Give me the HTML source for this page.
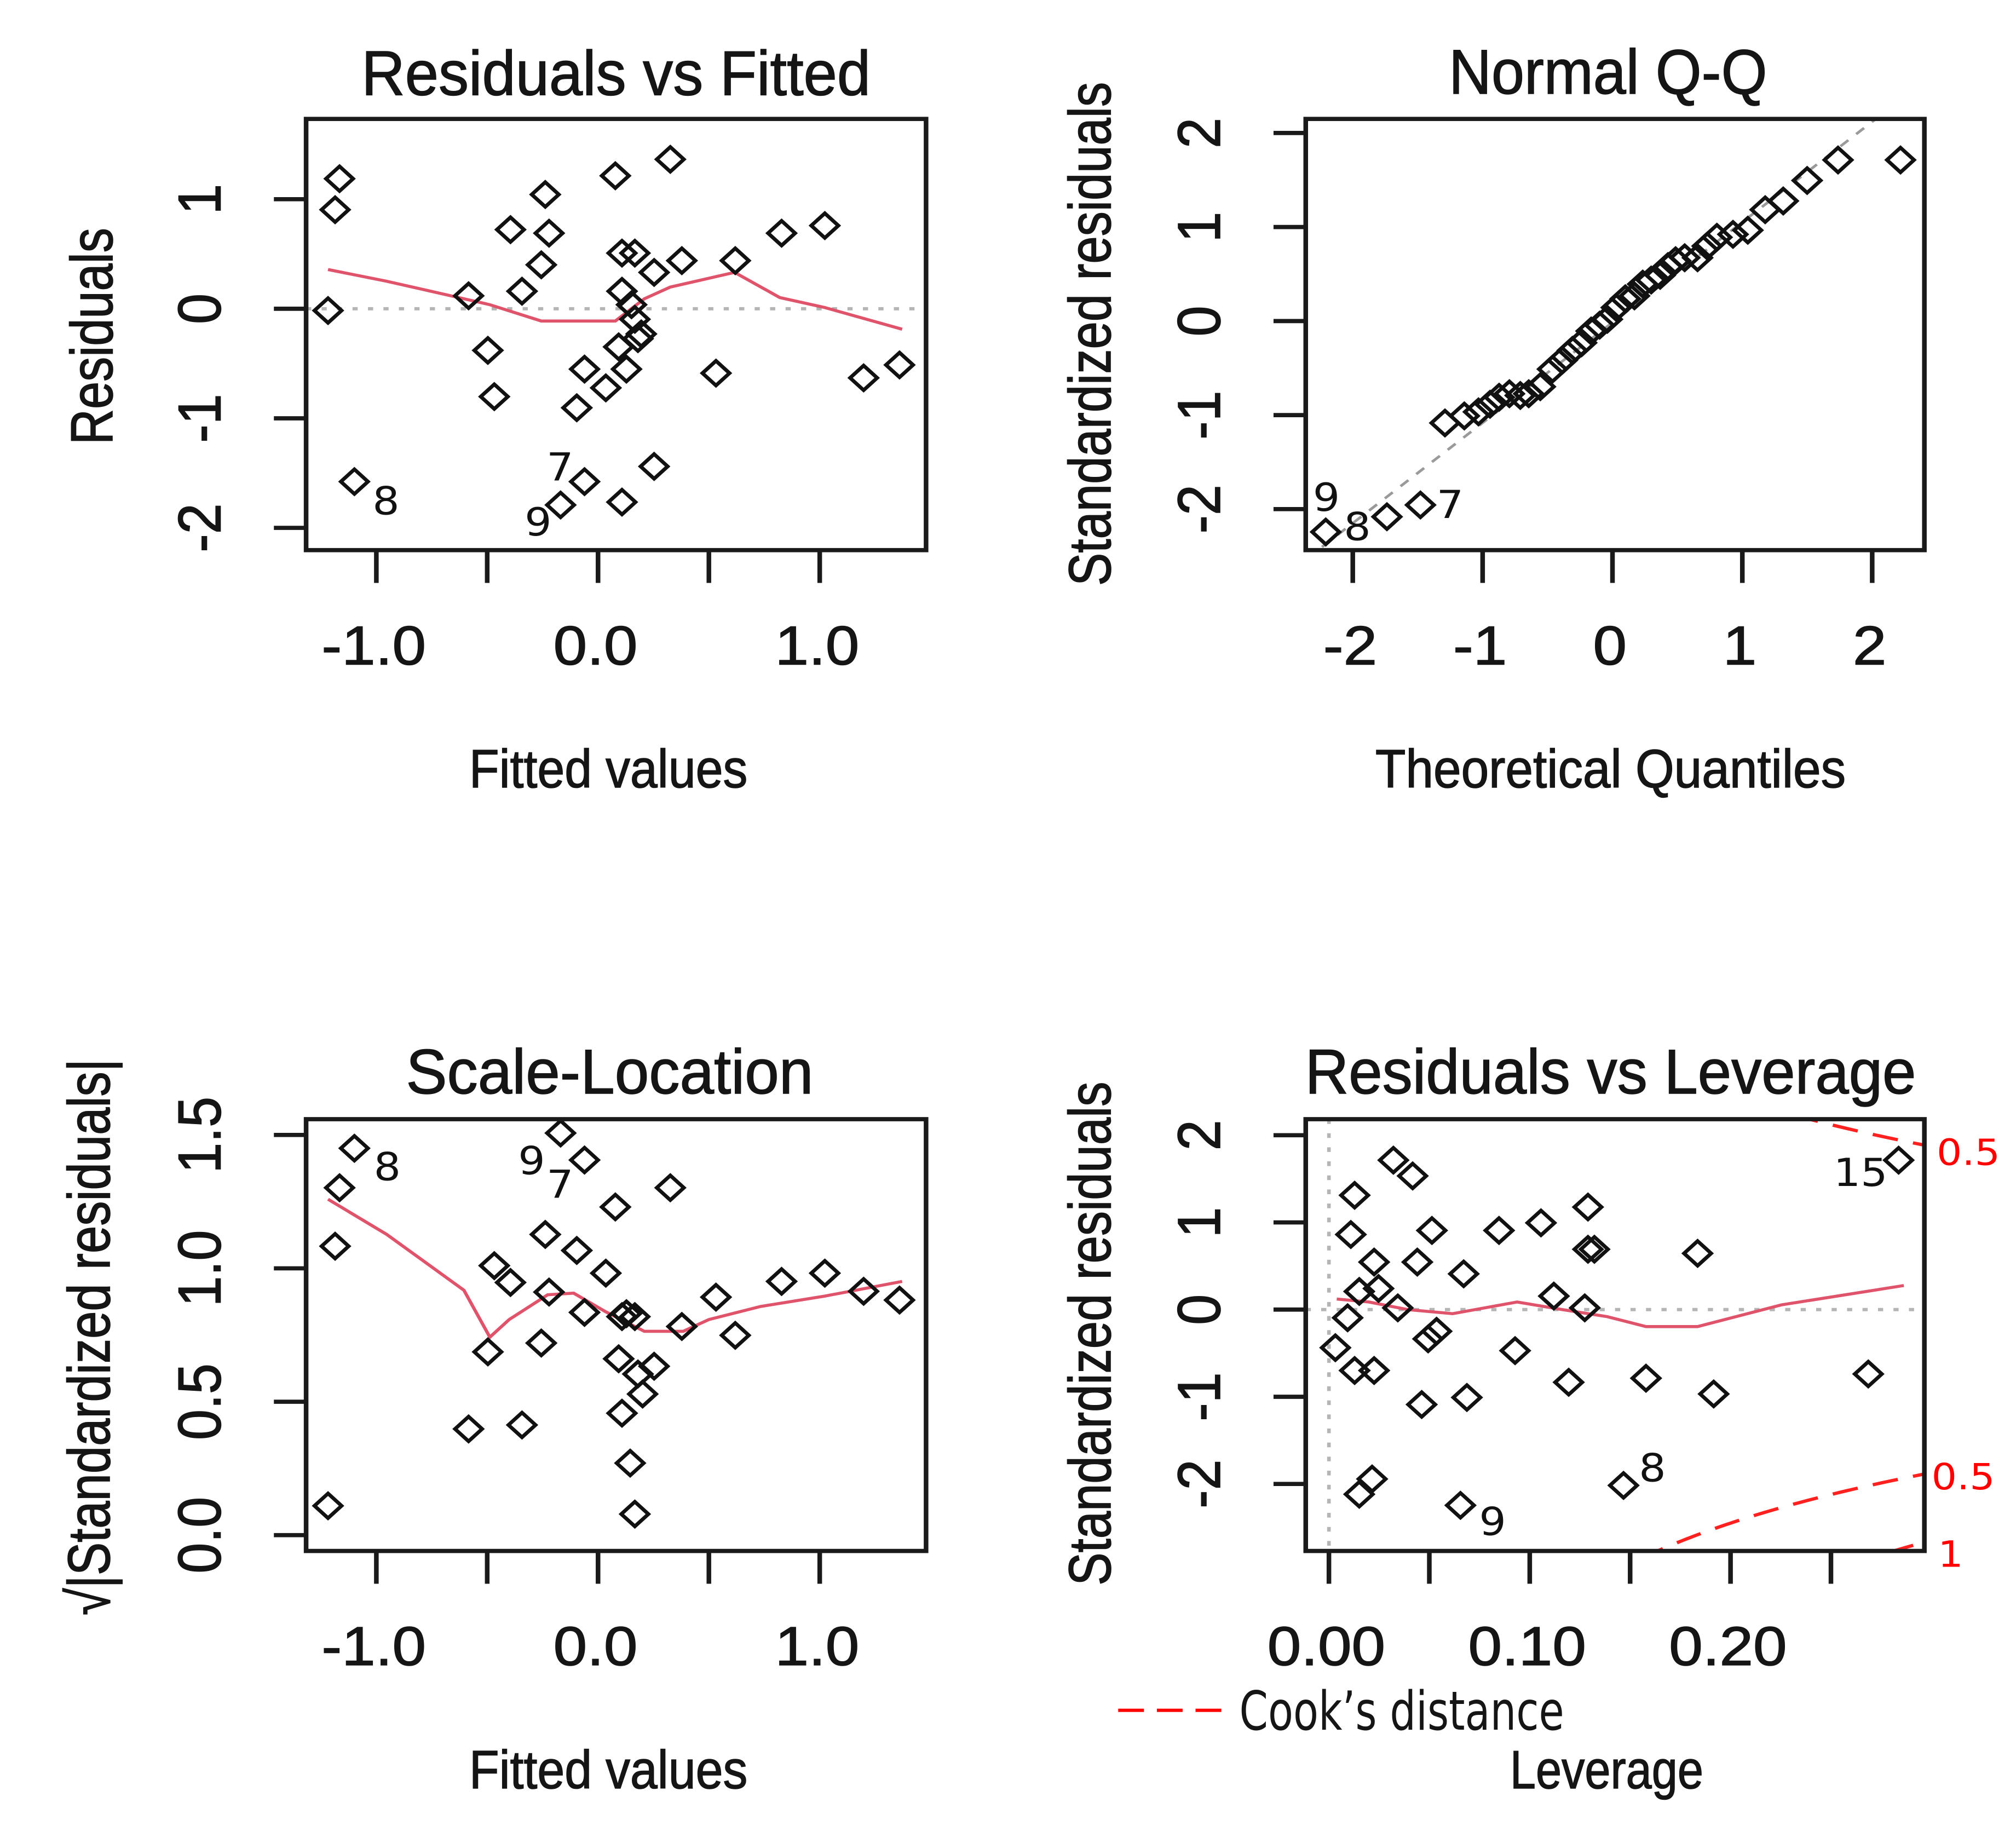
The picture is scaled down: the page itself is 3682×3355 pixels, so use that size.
<!DOCTYPE html>
<html><head><meta charset="utf-8">
<style>
html,body{margin:0;padding:0;background:#fff;}
svg{display:block;}
text{font-family:"Liberation Sans",Arial,sans-serif;fill:#151515;}
.rt{stroke:#151515;stroke-width:0.7;}
.ann{font-family:"DejaVu Sans","Liberation Sans",sans-serif;font-size:33px;fill:#111;}
.cook{font-family:"DejaVu Sans","Liberation Sans",sans-serif;font-size:31px;fill:#ff0000;}
</style></head>
<body>
<svg id="chart" xmlns="http://www.w3.org/2000/svg" width="3682" height="3355" viewBox="0 0 1841 1677.5">
<rect x="0" y="0" width="1841" height="1677.5" fill="#fff"/>
</svg>
<script>
// ---------- Data: Residuals vs Fitted ----------
const rfFitted = [-1.218,-1.166,-1.186,-1.099,-0.584,-0.497,-0.468,-0.395,-0.343,-0.256,-0.238,-0.221,-0.169,-0.096,-0.061,-0.061,0.035,0.078,0.093,0.108,0.108,0.128,0.108,0.166,0.151,0.166,0.195,0.180,0.253,0.253,0.326,0.378,0.532,0.619,0.828,1.023,1.198,1.360];
const rfResid = [-0.016,1.187,0.904,-1.578,0.118,-0.380,-0.802,0.722,0.160,0.401,1.043,0.690,-1.791,-0.904,-0.551,-1.578,-0.722,1.214,-0.348,0.160,0.508,-0.551,-1.765,0.508,0.037,-0.096,-0.230,-0.273,0.332,-1.439,1.364,0.439,-0.588,0.439,0.690,0.759,-0.631,-0.513];
const rfSmoothX = [-1.218,-0.953,-0.663,-0.488,-0.256,-0.140,0.078,0.209,0.326,0.616,0.820,1.023,1.372];
const rfSmoothY = [0.358,0.251,0.118,0.037,-0.112,-0.112,-0.112,0.091,0.198,0.332,0.102,0.011,-0.187];
const rfXTicks = [-1,-0.5,0,0.5,1];
const rfXLabels = ["-1.0","","0.0","","1.0"];
const rfYTicks = [-2,-1,0,1];
const rfYLabels = ["-2","-1","0","1"];
// ---------- Data: Normal Q-Q ----------
const qqTheo = [-2.208,-1.737,-1.479,-1.290,-1.141,-1.032,-0.943,-0.873,-0.794,-0.710,-0.645,-0.556,-0.462,-0.387,-0.308,-0.238,-0.164,-0.099,-0.040,0.030,0.099,0.169,0.233,0.298,0.367,0.427,0.486,0.556,0.655,0.730,0.804,0.928,1.042,1.176,1.315,1.499,1.737,2.218];
const qqStd = [-2.243,-2.081,-1.956,-1.084,-1.009,-0.966,-0.885,-0.810,-0.773,-0.791,-0.773,-0.698,-0.511,-0.417,-0.312,-0.231,-0.106,-0.044,0.019,0.143,0.237,0.268,0.393,0.436,0.486,0.579,0.642,0.673,0.673,0.798,0.891,0.922,0.966,1.184,1.277,1.495,1.713,1.713];
const qqLineX = [-2.6,2.6];
const qqLineY = [-2.79,2.76];
const qqTicks = [-2,-1,0,1,2];
const qqLabels = ["-2","-1","0","1","2"];
// ---------- Data: Scale-Location ----------
const slFitted = [-1.218,-1.186,-1.166,-1.099,-0.584,-0.497,-0.468,-0.395,-0.343,-0.256,-0.238,-0.221,-0.169,-0.096,-0.061,-0.061,0.035,0.078,0.093,0.108,0.108,0.128,0.145,0.166,0.166,0.180,0.201,0.253,0.326,0.378,0.532,0.619,0.828,1.023,1.198,1.360];
const slSqrt = [0.110,1.083,1.302,1.450,0.398,0.687,1.010,0.947,0.413,0.720,1.127,0.911,1.507,1.067,0.835,1.406,0.982,1.230,0.661,0.457,0.819,0.830,0.270,0.079,0.819,0.604,0.529,0.633,1.302,0.782,0.892,0.749,0.951,0.982,0.914,0.881];
const slSmoothX = [-1.218,-0.953,-0.605,-0.488,-0.401,-0.227,-0.110,0.035,0.209,0.384,0.500,0.733,1.023,1.372];
const slSmoothY = [1.259,1.127,0.918,0.742,0.808,0.901,0.907,0.837,0.764,0.764,0.808,0.857,0.896,0.951];
const slYTicks = [0,0.5,1,1.5];
const slYLabels = ["0.0","0.5","1.0","1.5"];
// ---------- Data: Residuals vs Leverage ----------
const lvLev = [0.0032,0.0093,0.0109,0.0128,0.0128,0.0151,0.0151,0.0215,0.0225,0.0225,0.0247,0.0321,0.0343,0.0417,0.0440,0.0462,0.0494,0.0536,0.0513,0.0655,0.0671,0.0687,0.0847,0.0927,0.1056,0.1120,0.1194,0.1274,0.1290,0.1290,0.1322,0.1467,0.1579,0.1836,0.1916,0.2686,0.2837];
const lvStd = [-0.437,-0.094,0.861,1.311,-0.699,0.208,-2.118,-1.943,0.545,-0.699,0.242,1.714,0.020,1.533,0.545,-1.089,-0.336,-0.249,0.908,-2.245,0.410,-1.008,0.908,-0.471,0.995,0.155,-0.834,0.020,1.176,0.692,0.692,-2.017,-0.787,0.645,-0.968,-0.739,1.714];
const lvSmoothX = [0.0039,0.0199,0.0392,0.0616,0.0937,0.1162,0.1386,0.1579,0.1836,0.2253,0.2863];
const lvSmoothY = [0.121,0.087,0,-0.047,0.087,0,-0.081,-0.195,-0.195,0.054,0.276];
const lvXTicks = [0,0.05,0.10,0.15,0.20,0.25];
const lvXLabels = ["0.00","","0.10","","0.20",""];
const cookLevels = [0.5,1];
const cookP = 3;

const NS = 'http://www.w3.org/2000/svg';
const svg = document.getElementById('chart');
const SX = 1.177, SY = 1.07;
function el(tag, parent){ const e=document.createElementNS(NS,tag); parent.appendChild(e); return e; }
function set(e, a){ for(const k in a) e.setAttribute(k, a[k]); return e; }
function quadTransform(ox, oy){ return `translate(${ox} ${oy}) scale(${SX} ${SY}) translate(${-ox} ${-oy})`; }

function buildPanel(p){
  const g = el('g', svg);
  g.setAttribute('transform', quadTransform(p.off[0], p.off[1]));
  
  
  const [x0,y0,x1,y1] = p.box;
  const clipId = p.name + '-clip';
  const cp = el('clipPath', g); cp.setAttribute('id', clipId);
  set(el('rect', cp), {x:x0, y:y0, width:x1-x0, height:y1-y0});
  const t = el('text', g);
  set(t, {x:p.titleX, y:p.titleY, class:'rt', 'text-anchor':'middle', 'font-size':54, textLength:p.titleW, lengthAdjust:'spacingAndGlyphs'});
  t.textContent = p.title;
  
  
  const inner = el('g', g); inner.setAttribute('clip-path', 'url(#'+clipId+')');
  
  
  if (p.extra) p.extra(inner);
  if (p.smX){
    const pl = el('polyline', inner);
    set(pl, {points: p.smX.map((v,i)=>p.sx(v)+','+p.sy(p.smY[i])).join(' '), fill:'none', stroke:'#DF536B', 'stroke-width':2.6});
    
    
  }
  const pg = el('g', g);
  
  
  p.xs.forEach((v,i)=>{
    const cx=p.sx(v), cy=p.sy(p.ys[i]), r=10.5;
    const d = el('polygon', pg);
    set(d, {points:`${cx},${cy-r} ${cx+r},${cy} ${cx},${cy+r} ${cx-r},${cy}`, fill:'none', stroke:'#111', 'stroke-width':3});
    
    
  });
  const b = el('rect', g);
  set(b, {x:x0, y:y0, width:x1-x0, height:y1-y0, fill:'none', stroke:'#1a1a1a', 'stroke-width':3.6});
  
  
  const xa = el('g', g);
  
  
  p.xTicks.forEach((v,i)=>{
    const x=p.sx(v);
    set(el('line', xa), {x1:x, x2:x, y1:y1, y2:y1+28, stroke:'#1a1a1a', 'stroke-width':3.6});
    if (p.xLabels[i]){
      const tl = el('text', xa);
      set(tl, {x:x-2, y:p.xLabY, class:'rt', 'text-anchor':'middle', 'font-size':47});
      tl.textContent = p.xLabels[i];
      
      
    }
  });
  const ya = el('g', g);
  
  
  p.yTicks.forEach((v,i)=>{
    const y=p.sy(v);
    set(el('line', ya), {x1:x0-25, x2:x0, y1:y, y2:y, stroke:'#1a1a1a', 'stroke-width':3.6});
    const tl = el('text', ya);
    set(tl, {x:p.yLabX, y:y, class:'rt', 'text-anchor':'middle', 'font-size':47, transform:`rotate(-90 ${p.yLabX} ${y})`});
    tl.textContent = p.yLabels[i];
    
    
  });
  const xt = el('text', g);
  set(xt, {x:p.xTitleX, y:p.xTitleY, class:'rt', 'text-anchor':'middle', 'font-size':46, textLength:p.xTitleW, lengthAdjust:'spacingAndGlyphs'});
  xt.textContent = p.xTitle;
  
  
  const yt = el('text', g);
  set(yt, {x:p.yTitleX, y:p.yTitleY, class:'rt', 'text-anchor':'middle', 'font-size':46, textLength:p.yTitleW, lengthAdjust:'spacingAndGlyphs', transform:`rotate(-90 ${p.yTitleX} ${p.yTitleY})`});
  yt.textContent = p.yTitle;
  
  
  p.ann.forEach(a=>{
    const at = el('text', g);
    set(at, {x:a[1], y:a[2], class: a[3]||'ann'});
    at.textContent = a[0];
    
    
  });
  return g;
}

function hline(parent, x0, x1, y){
  const l = el('line', parent);
  set(l, {x1:x0, x2:x1, y1:y, y2:y, stroke:'#b5b5b5', 'stroke-width':2.8, 'stroke-dasharray':'4 8'});
  
  
}

// Panel 1
const sx1 = v=>464+v*172, sy1 = v=>263.5-v*93.5;
buildPanel({name:'residuals-vs-fitted-panel', off:[0,0], box:[237.5,101.5,718.5,469.5], sx:sx1, sy:sy1,
  title:'Residuals vs Fitted', titleX:478, titleY:81, titleW:395,
  xs:rfFitted, ys:rfResid, smX:rfSmoothX, smY:rfSmoothY,
  xTicks:rfXTicks, xLabels:rfXLabels, xLabY:567, yTicks:rfYTicks, yLabels:rfYLabels, yLabX:171,
  xTitle:'Fitted values', xTitleX:472, xTitleY:672, xTitleW:216,
  yTitle:'Residuals', yTitleX:87, yTitleY:287, yTitleW:185,
  extra:g=>hline(g,237.5,718.5,sy1(0)),
  ann:[['8',289,439],['7',424,410],['9',407,457]]});

// Panel 2
const sx2 = v=>1389.5+v*100.75, sy2 = v=>274-v*80.25;
buildPanel({name:'normal-qq-panel', off:[920.5,0], box:[1151.5,101.5,1631.5,469.5], sx:sx2, sy:sy2,
  title:'Normal Q-Q', titleX:1386, titleY:80, titleW:247,
  xs:qqTheo, ys:qqStd,
  xTicks:qqTicks, xLabels:qqLabels, xLabY:567, yTicks:qqTicks, yLabels:qqLabels, yLabX:1085,
  xTitle:'Theoretical Quantiles', xTitleX:1388, xTitleY:672, xTitleW:365,
  yTitle:'Standardized residuals', yTitleX:1000, yTitleY:285, yTitleW:430,
  extra:g=>{
    const l = el('line', g);
    set(l, {x1:sx2(qqLineX[0]), y1:sy2(qqLineY[0]), x2:sx2(qqLineX[1]), y2:sy2(qqLineY[1]), stroke:'#9a9a9a', 'stroke-width':2.2, 'stroke-dasharray':'8 8'});
    
    
  },
  ann:[['9',1157,436],['8',1181,461],['7',1253,442]]});

// Panel 3
const sy3 = v=>1365-v*227.7;
buildPanel({name:'scale-location-panel', off:[0,838.5], box:[237.5,1010,718.5,1378.5], sx:sx1, sy:sy3,
  title:'Scale-Location', titleX:473, titleY:988, titleW:316,
  xs:slFitted, ys:slSqrt, smX:slSmoothX, smY:slSmoothY,
  xTicks:rfXTicks, xLabels:rfXLabels, xLabY:1476, yTicks:slYTicks, yLabels:slYLabels, yLabX:171,
  xTitle:'Fitted values', xTitleX:472, xTitleY:1581, xTitleW:216,
  yTitle:'√|Standardized residuals|', yTitleX:85, yTitleY:1196, yTitleW:475,
  ann:[['8',290,1062],['9',402,1057],['7',424,1077]]});

// Panel 4
const sx4 = v=>1169.5+v*1558, sy4 = v=>1172.5-v*74.4;
buildPanel({name:'residuals-vs-leverage-panel', off:[920.5,838.5], box:[1151.5,1010,1631.5,1378.5], sx:sx4, sy:sy4,
  title:'Residuals vs Leverage', titleX:1388, titleY:988, titleW:474,
  xs:lvLev, ys:lvStd, smX:lvSmoothX, smY:lvSmoothY,
  xTicks:lvXTicks, xLabels:lvXLabels, xLabY:1476, yTicks:qqTicks, yLabels:qqLabels, yLabX:1085,
  xTitle:'Leverage', xTitleX:1385, xTitleY:1581, xTitleW:150,
  yTitle:'Standardized residuals', yTitleX:1000, yTitleY:1193, yTitleW:430,
  extra:g=>{
    hline(g,1151.5,1631.5,sy4(0));
    const v = el('line', g);
    set(v, {x1:sx4(0), x2:sx4(0), y1:1010, y2:1378.5, stroke:'#b5b5b5', 'stroke-width':2.8, 'stroke-dasharray':'4 8'});
    
    
    cookLevels.forEach(c=>{
      [1,-1].forEach(sgn=>{
        const pts=[];
        for(let h=0.12; h<=0.2975; h+=0.002){
          const r = sgn*Math.sqrt(c*cookP*(1-h)/h);
          pts.push(sx4(h)+','+sy4(r));
        }
        const pl = el('polyline', g);
        set(pl, {points:pts.join(' '), fill:'none', stroke:'#ff2020', 'stroke-width':2.8, 'stroke-dasharray':'20 12'});
        
        
      });
    });
  },
  ann:[['15',1561,1067],['8',1410,1319],['9',1286,1365],['0.5',1641,1049,'cook'],['0.5',1637,1326,'cook'],['1',1642,1392,'cook']]});

// Legend
const lg = el('g', svg);
lg.setAttribute('transform', quadTransform(920.5, 838.5));


set(el('line', lg), {x1:1006, x2:1091, y1:1514.5, y2:1514.5, stroke:'#ff0000', 'stroke-width':2.8, 'stroke-dasharray':'20 10'});
const lt = el('text', lg);
set(lt, {x:1100, y:1531, 'font-size':46, textLength:252, lengthAdjust:'spacingAndGlyphs', style:'font-family:"DejaVu Sans","Liberation Sans",sans-serif'});
lt.textContent = 'Cook’s distance';
</script>
</body></html>
